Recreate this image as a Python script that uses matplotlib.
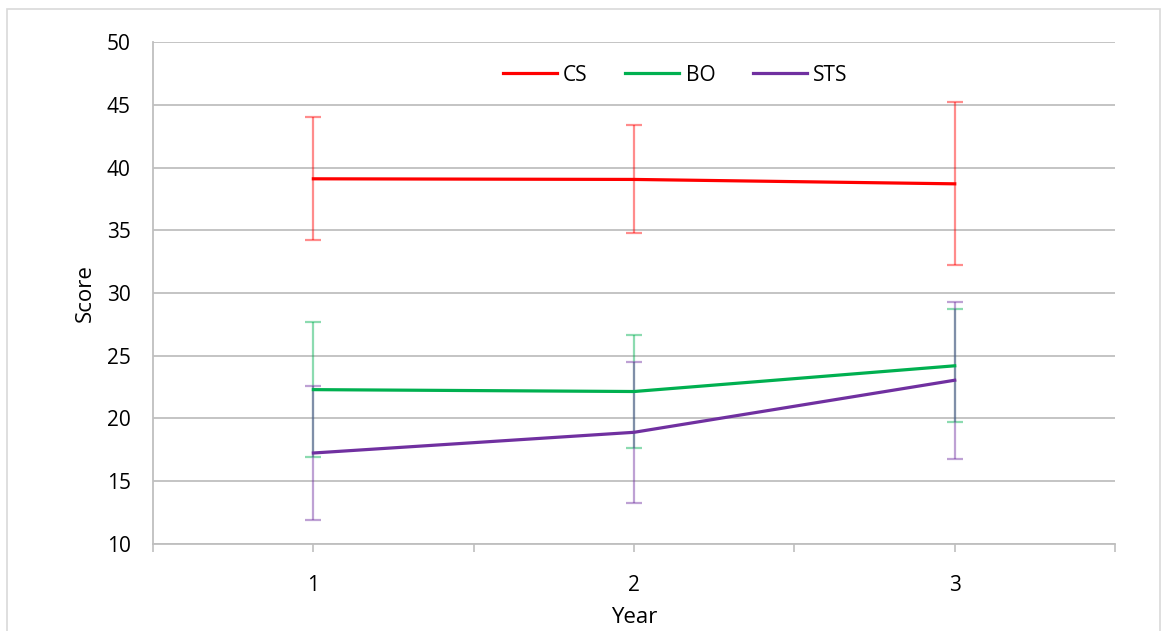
import numpy as np
import matplotlib
matplotlib.use("Agg")
import matplotlib.pyplot as plt
from matplotlib.patches import Rectangle

plt.rcParams['font.family'] = ['Open Sans', 'DejaVu Sans']

# data
years = [1, 2, 3]
year_labels = ["1", "2", "3"]
cs = [39.1, 39.05, 38.7]
cs_err = [4.9, 4.3, 6.5]
bo = [22.3, 22.15, 24.2]
bo_err = [5.4, 4.5, 4.5]
sts = [17.25, 18.9, 23.05]
sts_err = [5.35, 5.6, 6.25]

series = [("CS", cs, cs_err, "#FF0000"),
          ("BO", bo, bo_err, "#00B050"),
          ("STS", sts, sts_err, "#7030A0")]

fig = plt.figure(figsize=(11.62, 6.31), dpi=100)
ax = fig.add_axes([0.1317, 0.1379, 0.8279, 0.7955])

# light chart border like the original
fig.patches.append(Rectangle((0.006, -0.01), 0.992, 0.995, transform=fig.transFigure,
                             fill=False, edgecolor="#D9D9D9", linewidth=1.2))

for name, vals, err, col in series:
    ax.errorbar(years, vals, yerr=err, fmt="none", ecolor=col, alpha=0.45,
                elinewidth=1.6, capsize=6, capthick=1.6, zorder=2)
    ax.plot(years, vals, color=col, linewidth=2.3, label=name, zorder=3)

ax.set_xlim(0.5, 3.5)
ax.set_ylim(10, 50)
ax.set_yticks(np.arange(10, 51, 5))
ax.set_xticks(years)
ax.set_xticklabels(year_labels)
ax.set_xticks([0.5, 1.5, 2.5, 3.5], minor=True)
ax.tick_params(axis="y", length=0, labelsize=15, pad=16)
ax.tick_params(axis="x", which="both", length=6, color="#BFBFBF", width=1.2,
               labelsize=15, pad=16)

ax.grid(axis="y", color="#BFBFBF", linewidth=1.3)
ax.set_axisbelow(True)
for s in ["top", "right"]:
    ax.spines[s].set_visible(False)
for s in ["left", "bottom"]:
    ax.spines[s].set_color("#BFBFBF")
    ax.spines[s].set_linewidth(1.3)

ax.set_xlabel("Year", fontsize=16, labelpad=8)
ax.set_ylabel("Score", fontsize=16, labelpad=8)

ax.legend(loc="center", bbox_to_anchor=(0.581, 0.881), bbox_transform=fig.transFigure,
          ncol=3, frameon=False, fontsize=15, handlelength=2.6, columnspacing=1.8,
          handletextpad=0.3)

fig.savefig("out.png", dpi=100)
